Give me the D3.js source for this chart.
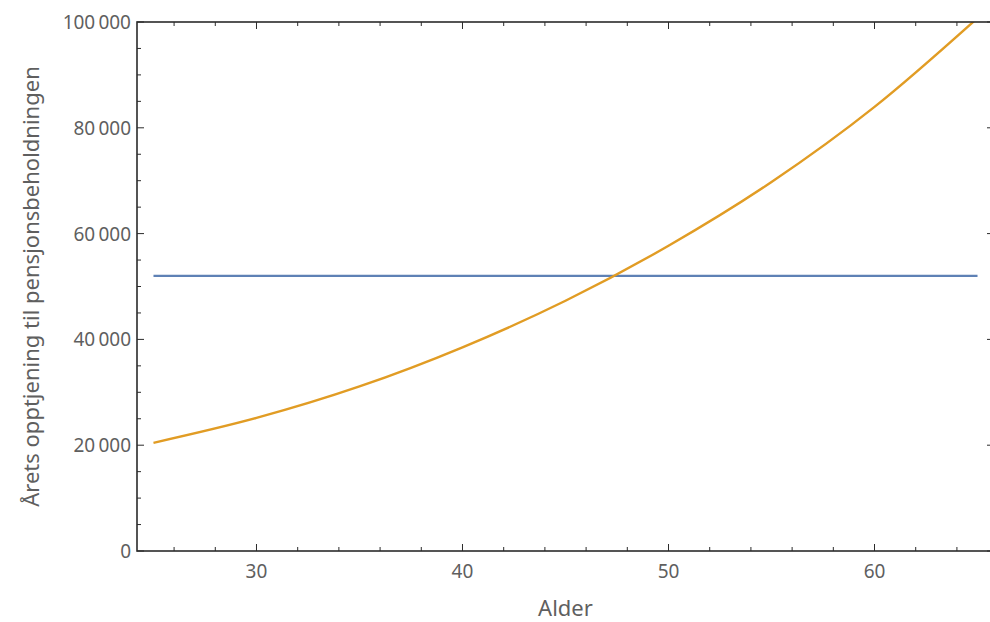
<!DOCTYPE html>
<html>
<head>
<meta charset="utf-8">
<script src="https://cdn.jsdelivr.net/npm/d3@7"></script>
<style>
  body { margin: 0; background: #fff; }
  text { font-family: "Noto Sans", "Open Sans", sans-serif; }
</style>
</head>
<body>
<svg id="chart" width="990" height="622"></svg>
<script>
// values
ages = [25, 30, 35, 40, 45, 50, 55, 60, 65]
opptjening = [20450, 25150, 31100, 38500, 47300, 57700, 69750, 83950, 100750]
flatAges = [25, 65]
flatValue = [52000, 52000]

xTicks = [30, 40, 50, 60]
yTicks = [0, 20000, 40000, 60000, 80000, 100000]

xTitle = "Alder"
yTitle = "Årets opptjening til pensjonsbeholdningen"

svg = d3.select("#chart")

// note: "top" is taken by window.top, so use plot* names
plotLeft = 137
plotRight = 994
plotTop = 22
plotBottom = 551

x = d3.scaleLinear().domain([24.2, 65.8]).range([plotLeft, plotRight])
y = d3.scaleLinear().domain([0, 100000]).range([plotBottom, plotTop])

fmt = d3.formatLocale({decimal: ".", thousands: "\u2009", grouping: [3], currency: ["", ""]}).format(",d")

labelColor = "#5f5f5f"
frameColor = "#2b2b2b"

// clip the curves to the frame
svg.append("clipPath").attr("id", "plotclip")
  .append("rect")
  .attr("x", plotLeft).attr("y", plotTop)
  .attr("width", plotRight - plotLeft).attr("height", plotBottom - plotTop)

plot = svg.append("g").attr("clip-path", "url(#plotclip)")

line = d3.line()
  .x(function(d) { return x(d[0]) })
  .y(function(d) { return y(d[1]) })
  .curve(d3.curveMonotoneX)

plot.append("path")
  .datum(flatAges.map(function(a, i) { return [a, flatValue[i]] }))
  .attr("d", line)
  .attr("fill", "none")
  .attr("stroke", "#5e81b5")
  .attr("stroke-width", 2.4)

plot.append("path")
  .datum(ages.map(function(a, i) { return [a, opptjening[i]] }))
  .attr("d", line)
  .attr("fill", "none")
  .attr("stroke", "#e19c24")
  .attr("stroke-width", 2.4)

// frame ticks (major + minor), pointing inward
xMinor = d3.range(26, 66, 2).filter(function(v) { return xTicks.indexOf(v) < 0 })
yMinor = d3.range(0, 100001, 5000).filter(function(v) { return yTicks.indexOf(v) < 0 })

ticks = svg.append("g").attr("stroke", frameColor).attr("stroke-width", 1)

function xTickMarks(vals, len) {
  vals.forEach(function(v) {
    ticks.append("line").attr("x1", x(v)).attr("x2", x(v)).attr("y1", plotBottom).attr("y2", plotBottom - len)
    ticks.append("line").attr("x1", x(v)).attr("x2", x(v)).attr("y1", plotTop).attr("y2", plotTop + len)
  })
}
function yTickMarks(vals, len) {
  vals.forEach(function(v) {
    ticks.append("line").attr("x1", plotLeft).attr("x2", plotLeft + len).attr("y1", y(v)).attr("y2", y(v))
    ticks.append("line").attr("x1", plotRight).attr("x2", plotRight - len).attr("y1", y(v)).attr("y2", y(v))
  })
}
xTickMarks(xTicks, 7)
xTickMarks(xMinor, 4)
yTickMarks(yTicks, 7)
yTickMarks(yMinor, 4)

// frame
svg.append("rect")
  .attr("x", plotLeft).attr("y", plotTop)
  .attr("width", plotRight - plotLeft).attr("height", plotBottom - plotTop)
  .attr("fill", "none")
  .attr("stroke", frameColor)
  .attr("stroke-width", 1.6)

// tick labels
svg.append("g").selectAll("text")
  .data(xTicks)
  .join("text")
  .attr("x", function(d) { return x(d) })
  .attr("y", 578)
  .attr("text-anchor", "middle")
  .attr("font-size", 19)
  .attr("fill", labelColor)
  .text(function(d) { return d })

svg.append("g").selectAll("text")
  .data(yTicks)
  .join("text")
  .attr("x", plotLeft - 6)
  .attr("y", function(d) { return y(d) + 7 })
  .attr("text-anchor", "end")
  .attr("font-size", 19)
  .attr("fill", labelColor)
  .text(function(d) { return fmt(d) })

// axis titles
svg.append("text")
  .attr("x", (plotLeft + plotRight) / 2)
  .attr("y", 616)
  .attr("text-anchor", "middle")
  .attr("font-size", 22)
  .attr("fill", labelColor)
  .text(xTitle)

svg.append("text")
  .attr("transform", "translate(39," + ((plotTop + plotBottom) / 2) + ") rotate(-90)")
  .attr("text-anchor", "middle")
  .attr("font-size", 22)
  .attr("fill", labelColor)
  .text(yTitle)
</script>
</body>
</html>
